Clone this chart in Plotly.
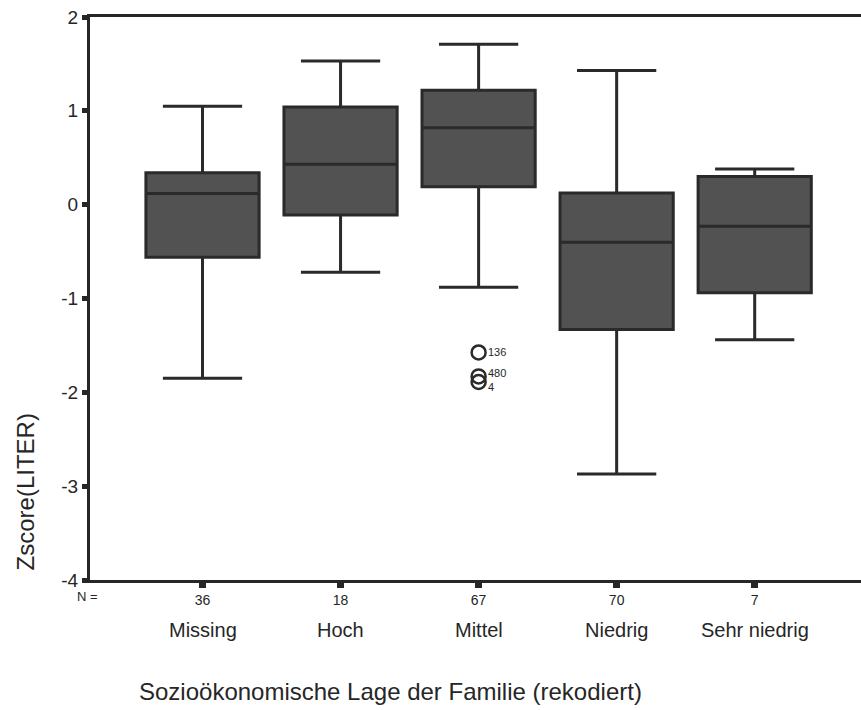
import plotly.graph_objects as go

# box statistics
categories = ['Missing', 'Hoch', 'Mittel', 'Niedrig', 'Sehr niedrig']
n_labels = ['36', '18', '67', '70', '7']
lower_whisker = [-1.85, -0.72, -0.88, -2.87, -1.44]
q1 = [-0.56, -0.11, 0.19, -1.33, -0.94]
median = [0.12, 0.43, 0.82, -0.40, -0.23]
q3 = [0.34, 1.04, 1.22, 0.125, 0.30]
upper_whisker = [1.05, 1.53, 1.71, 1.43, 0.38]

# outliers (all in group "Mittel")
outlier_pos = [2, 2, 2]
outlier_val = [-1.575, -1.83, -1.89]
outlier_ids = ['136', '480', '4']

y_ticks = [-4, -3, -2, -1, 0, 1, 2]
y_ticktext = ['-4', '-3', '-2', '-1', '0', '1', '2']

pos = list(range(len(categories)))
font_family = 'Liberation Sans, Arial, sans-serif'
ink = '#262626'

fig = go.Figure()

fig.add_trace(go.Box(
    x=pos,
    q1=q1,
    median=median,
    q3=q3,
    lowerfence=lower_whisker,
    upperfence=upper_whisker,
    width=0.82,
    whiskerwidth=0.7,
    fillcolor='#525252',
    line=dict(color='#2a2a2a', width=3),
    boxpoints=False,
    hoverinfo='skip',
    showlegend=False
))

fig.add_trace(go.Scatter(
    x=outlier_pos,
    y=outlier_val,
    mode='markers',
    marker=dict(symbol='circle-open', size=14, color='#2a2a2a', line=dict(width=2.5)),
    hoverinfo='skip',
    showlegend=False,
    cliponaxis=False
))

# case numbers next to the outliers (small nudges as in the SPSS output)
label_shift = [0, 3, -5]
for p, v, t, s in zip(outlier_pos, outlier_val, outlier_ids, label_shift):
    fig.add_annotation(x=p, y=v, text=t, showarrow=False, xanchor='left', yanchor='middle',
                       xshift=7, yshift=s,
                       font=dict(family=font_family, size=11, color=ink))

# category names under the N labels
for p, c in zip(pos, categories):
    fig.add_annotation(x=p, xref='x', y=-0.089, yref='paper', text=c, showarrow=False,
                       font=dict(family=font_family, size=20, color=ink),
                       xanchor='center', yanchor='middle')

fig.add_annotation(x=-0.003, xref='paper', y=-0.030, yref='paper', text='N =', showarrow=False,
                   font=dict(family=font_family, size=13, color=ink),
                   xanchor='center', yanchor='middle')

fig.add_annotation(x=0.39, xref='paper', y=-0.198, yref='paper',
                   text='Sozioökonomische Lage der Familie (rekodiert)', showarrow=False,
                   font=dict(family=font_family, size=24, color=ink),
                   xanchor='center', yanchor='middle')

fig.add_annotation(x=-0.084, xref='paper', y=0.156, yref='paper', text='Zscore(LITER)',
                   showarrow=False, textangle=-90,
                   font=dict(family=font_family, size=24, color=ink),
                   xanchor='center', yanchor='middle')

fig.update_layout(
    width=861,
    height=710,
    margin=dict(l=90, r=0, t=17, b=130),
    paper_bgcolor='white',
    plot_bgcolor='white',
    font=dict(family=font_family, color=ink),
    xaxis=dict(
        range=[-0.815, 4.77],
        tickvals=pos,
        ticktext=n_labels,
        tickfont=dict(size=14),
        ticks='outside', ticklen=5, tickwidth=7, tickcolor=ink,
        showline=True, linecolor=ink, linewidth=2.5, mirror=True,
        showgrid=False, zeroline=False
    ),
    yaxis=dict(
        range=[-4, 2],
        tickvals=y_ticks,
        ticktext=y_ticktext,
        tickfont=dict(size=19),
        ticks='outside', ticklen=5, tickwidth=5, tickcolor=ink,
        showline=True, linecolor=ink, linewidth=3,
        showgrid=False, zeroline=False
    )
)

# page body has a default 8px margin; drop it so the figure fills the window
fig.write_html('out.html', config={'displayModeBar': False},
               post_script="document.body.style.margin='0';document.body.style.overflow='hidden';")
